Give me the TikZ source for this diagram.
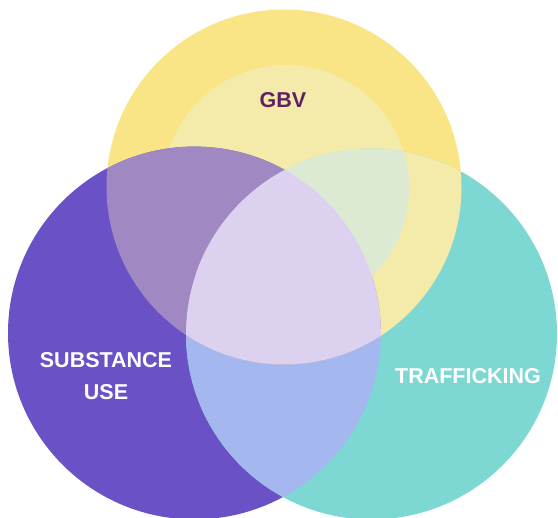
\documentclass[tikz,border=0pt]{standalone}
\usepackage{fontspec}
\setmainfont{Liberation Sans}
\definecolor{gbvyellow}{HTML}{F9E585}
\definecolor{gbvpale}{HTML}{F4EAAA}
\definecolor{supurple}{HTML}{6A51C6}
\definecolor{trteal}{HTML}{7DD8D3}
\definecolor{supgbv}{HTML}{A088C2}
\definecolor{trgbv}{HTML}{DDEAD3}
\definecolor{suptr}{HTML}{A5B7EF}
\definecolor{allthree}{HTML}{DCD2EF}
\definecolor{gbvtext}{HTML}{5F2163}

\begin{document}
\begin{tikzpicture}[
    x=1pt, y=-1pt,
    venntext/.style={
    font=\fontsize{21.5}{32}\selectfont\bfseries,
    align=center,
    inner sep=0pt},
    ]
    \useasboundingbox (0,0) rectangle (558,518);

    \coordinate (gbv) at (284,187);
    \coordinate (core) at (286,188);
    \coordinate (sub) at (194.4,333);
    \coordinate (traf) at (371.5,334);

    % base circles
    \fill[gbvyellow] (gbv) circle (177.5pt);
    \fill[gbvpale] (core) circle (123pt);
    \fill[supurple] (sub) circle (186.4pt);
    \fill[trteal] (traf) circle (185.5pt);

    % overlaps
    \begin{scope}
        \clip (sub) circle (186.4pt);
        \fill[suptr] (traf) circle (185.5pt);
    \end{scope}
    \begin{scope}
        \clip (gbv) circle (177.5pt);
        \fill[gbvpale] (traf) circle (185.5pt);
        \fill[supgbv] (sub) circle (186.4pt);
        \begin{scope}
            \clip (core) circle (123pt);
            \fill[trgbv] (traf) circle (185.5pt);
        \end{scope}
        \clip (sub) circle (186.4pt);
        \fill[allthree] (traf) circle (185.5pt);
    \end{scope}

    \node[venntext, text=gbvtext] (gbvlabel) at (283,100) {GBV};
    \node[venntext, text=white] (sublabel) at (106,376) {SUBSTANCE\\USE};
    \node[venntext, text=white] (traflabel) at (468,376) {TRAFFICKING};
\end{tikzpicture}
\end{document}
